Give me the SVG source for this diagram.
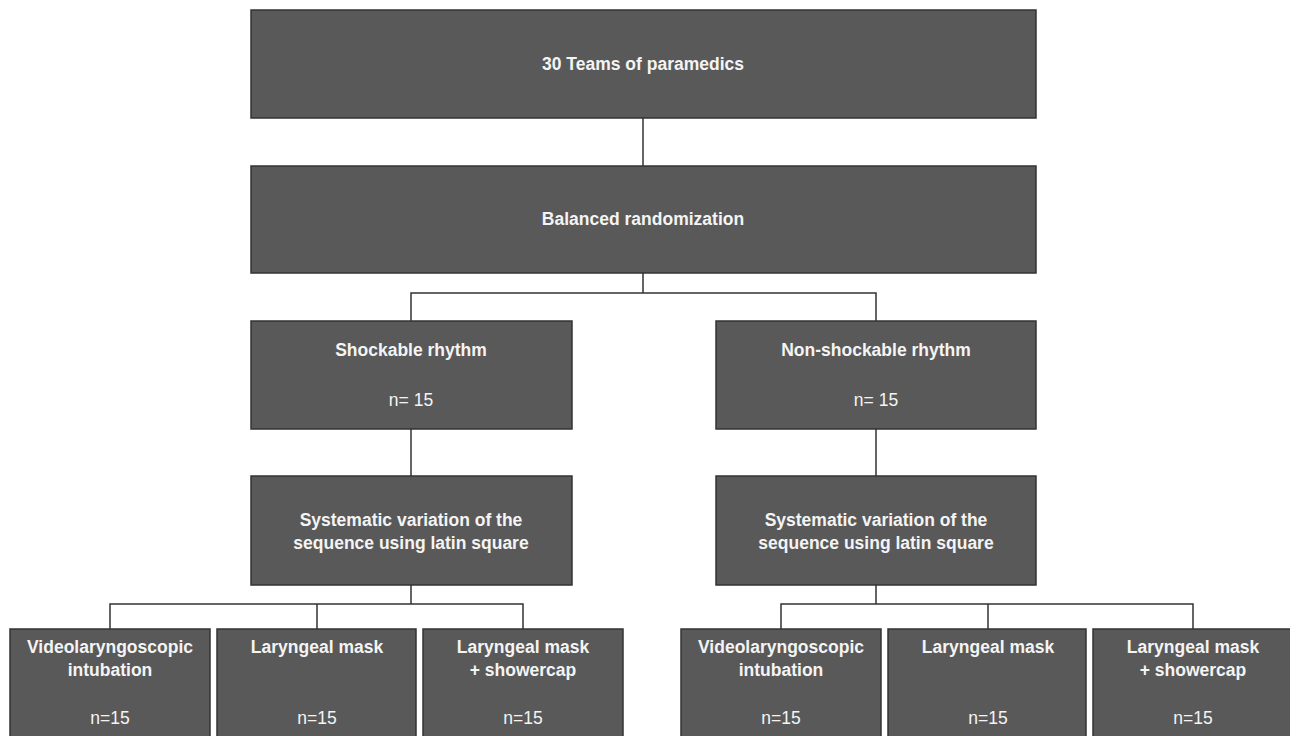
<svg xmlns="http://www.w3.org/2000/svg" width="1290" height="736" viewBox="0 0 1290 736">
<style>
.box{fill:#595959;stroke:#333333;stroke-width:1.5}
.t{font-family:"Liberation Sans",Arial,sans-serif;font-size:17.5px;font-weight:bold;fill:#f4f4f4;text-anchor:middle}
.n{font-family:"Liberation Sans",Arial,sans-serif;font-size:17.5px;fill:#f4f4f4;text-anchor:middle}
.c{fill:none;stroke:#333333;stroke-width:1.5}
</style>
<rect width="1290" height="736" fill="#ffffff"/>
<g id="connectors">
<path class="c" d="M643 118V166"/>
<path class="c" d="M643 273V293M411 321V293H876V321"/>
<path class="c" d="M411 429V476"/>
<path class="c" d="M876 429V476"/>
<path class="c" d="M411 585V604M110 629V604H523V629M317 604V629"/>
<path class="c" d="M876 585V604M781 629V604H1193V629M988 604V629"/>
</g>
<g id="n1"><rect class="box" x="251" y="10" width="785" height="108"/><text class="t" x="643" y="70">30 Teams of paramedics</text></g>
<g id="n2"><rect class="box" x="251" y="166" width="785" height="107"/><text class="t" x="643" y="225">Balanced randomization</text></g>
<g id="n3"><rect class="box" x="251" y="321" width="321" height="108"/><text class="t" x="411" y="356">Shockable rhythm</text><text class="n" x="411" y="406">n= 15</text></g>
<g id="n4"><rect class="box" x="716" y="321" width="320" height="108"/><text class="t" x="876" y="356">Non-shockable rhythm</text><text class="n" x="876" y="406">n= 15</text></g>
<g id="n5"><rect class="box" x="251" y="476" width="321" height="109"/><text class="t" x="411" y="526">Systematic variation of the</text><text class="t" x="411" y="549">sequence using latin square</text></g>
<g id="n6"><rect class="box" x="716" y="476" width="320" height="109"/><text class="t" x="876" y="526">Systematic variation of the</text><text class="t" x="876" y="549">sequence using latin square</text></g>
<g id="n7"><rect class="box" x="10" y="629" width="200" height="115"/><text class="t" x="110" y="653">Videolaryngoscopic</text><text class="t" x="110" y="676">intubation</text><text class="n" x="110" y="724">n=15</text></g>
<g id="n8"><rect class="box" x="217" y="629" width="199" height="115"/><text class="t" x="317" y="653">Laryngeal mask</text><text class="n" x="317" y="724">n=15</text></g>
<g id="n9"><rect class="box" x="423" y="629" width="200" height="115"/><text class="t" x="523" y="653">Laryngeal mask</text><text class="t" x="523" y="676">+ showercap</text><text class="n" x="523" y="724">n=15</text></g>
<g id="n10"><rect class="box" x="681" y="629" width="200" height="115"/><text class="t" x="781" y="653">Videolaryngoscopic</text><text class="t" x="781" y="676">intubation</text><text class="n" x="781" y="724">n=15</text></g>
<g id="n11"><rect class="box" x="888" y="629" width="198" height="115"/><text class="t" x="988" y="653">Laryngeal mask</text><text class="n" x="988" y="724">n=15</text></g>
<g id="n12"><rect class="box" x="1093" y="629" width="205" height="115"/><text class="t" x="1193" y="653">Laryngeal mask</text><text class="t" x="1193" y="676">+ showercap</text><text class="n" x="1193" y="724">n=15</text></g>
</svg>
